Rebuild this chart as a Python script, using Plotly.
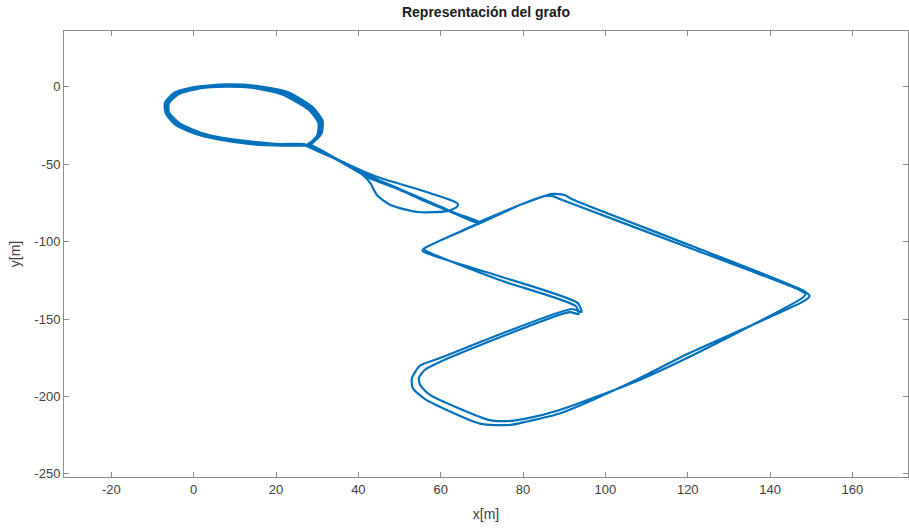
import plotly.graph_objects as go

# --- trajectory segments (metres), in driving order ---
# loops around the small ellipse
ell1_x = [27.5, 30.5, 30.8, 28.5, 22.0, 15.0, 8.0, 1.0, -4.0, -6.3, -6.3, -4.0, 1.0, 6.5, 14.0, 21.0, 27.5]
ell1_y = [-37.5, -31.0, -23.0, -14.5, -4.0, 0.0, 0.8, -0.5, -4.0, -10.0, -16.5, -24.0, -30.0, -33.5, -36.0, -37.5, -37.5]
ell2_x = [27.5, 31.0, 31.3, 29.0, 23.0, 15.5, 8.0, 0.5, -4.8, -7.0, -6.8, -4.5, 0.5, 6.0, 14.0, 21.5, 28.0]
ell2_y = [-37.5, -30.5, -22.0, -13.5, -3.5, 0.5, 1.5, 0.0, -4.0, -10.5, -17.0, -24.5, -30.5, -34.0, -37.0, -38.0, -38.0]

# corridor: down by the lower branch, u-turn, back up by the upper branch
cor1_x = [28.0, 35.0, 41.2, 42.9, 44.5, 47.8, 54.4, 61.6, 63.9, 64.2, 63.0, 55.8, 46.1, 42.0, 35.0, 28.0]
cor1_y = [-38.0, -47.5, -57.2, -62.2, -69.9, -76.4, -80.9, -80.3, -77.6, -75.8, -73.8, -67.3, -59.6, -55.5, -47.0, -37.0]

ell3_x = [28.0, 30.0, 30.3, 28.0, 21.5, 14.5, 8.0, 1.5, -3.5, -6.0, -6.0, -3.5, 1.5, 7.0, 14.5, 21.0, 27.0]
ell3_y = [-37.0, -31.5, -23.5, -15.0, -5.0, -0.8, 0.0, -1.0, -4.5, -10.5, -16.5, -23.5, -29.5, -33.0, -35.5, -37.0, -37.0]

# corridor down the main line to the large loop
cor2_x = [27.0, 35.0, 42.2, 50.0, 56.5, 63.5, 68.8]
cor2_y = [-37.5, -47.5, -58.4, -66.5, -74.3, -82.0, -88.0]

# two laps of the large loop
lapA_x = [68.8, 79.2, 85.3, 87.2, 88.9, 119.7, 147.1, 148.6, 147.8, 122.8, 108.3, 88.9, 80.4, 76.3, 71.9,
          57.4, 55.0, 54.7, 56.1, 59.8, 91.3, 93.5, 92.8, 74.3, 56.3, 56.0, 68.8]
lapA_y = [-88.0, -76.4, -70.6, -70.6, -72.5, -103.3, -131.2, -133.8, -136.4, -171.3, -189.3, -208.7, -214.5, -215.9, -215.3,
          -199.0, -192.6, -188.1, -182.9, -177.7, -145.5, -146.8, -141.6, -124.8, -105.8, -104.6, -89.0]
lapB_x = [80.4, 87.2, 90.1, 91.8, 120.4, 148.0, 149.6, 148.3, 120.4, 105.9, 88.9, 80.4, 77.0, 69.5,
          56.1, 53.2, 53.0, 54.9, 59.8, 91.8, 94.2, 93.3, 74.5, 55.6, 55.9, 69.3]
lapB_y = [-75.1, -69.2, -69.9, -72.5, -102.2, -131.6, -135.1, -138.3, -172.0, -191.3, -211.0, -216.5, -218.4, -217.5,
          -201.5, -194.5, -188.1, -180.3, -175.2, -143.5, -145.5, -139.7, -122.5, -106.1, -104.5, -88.0]

# corridor back up and a final partial loop
cor3_x = [69.5, 63.5, 56.5, 50.0, 42.5, 35.0, 28.0]
cor3_y = [-87.5, -81.5, -73.5, -66.0, -57.5, -47.0, -37.0]
ell4_x = [28.0, 30.8, 31.0, 29.0, 22.5, 15.0, 8.5, 1.0, -4.5, -6.8, -6.6]
ell4_y = [-38.0, -31.0, -22.5, -14.0, -3.5, 0.3, 1.0, -0.3, -4.0, -10.0, -16.0]

# axis ticks
x_ticks = [-20, 0, 20, 40, 60, 80, 100, 120, 140, 160]
y_ticks = [-250, -200, -150, -100, -50, 0]

xs = ell1_x + ell2_x + cor1_x + ell3_x + cor2_x + lapA_x + lapB_x + cor3_x + ell4_x
ys = ell1_y + ell2_y + cor1_y + ell3_y + cor2_y + lapA_y + lapB_y + cor3_y + ell4_y

fig = go.Figure(go.Scatter(x=xs, y=ys, mode="lines",
                           line=dict(color="#0072BD", width=2.2, shape="spline", smoothing=0.6),
                           showlegend=False))

font_family = "Liberation Sans, Arial, sans-serif"
axis_common = dict(
    showgrid=False, zeroline=False, showline=True, linecolor="#8c8c8c", linewidth=1,
    mirror="ticks", ticks="inside", ticklen=5, tickcolor="#8c8c8c",
    tickfont=dict(family=font_family, size=13, color="#404040"),
)

fig.update_layout(
    width=909, height=529,
    margin=dict(l=64, r=1, t=31, b=52),
    paper_bgcolor="white", plot_bgcolor="white",
    title=dict(text="<b>Representación del grafo</b>", x=0.5, xref="paper",
               y=1 - 12 / 529, yref="container", yanchor="middle",
               font=dict(family=font_family, size=14, color="#1a1a1a")),
    xaxis=dict(range=[-31.5, 173.5], tickvals=x_ticks, ticktext=[str(v) for v in x_ticks],
               title=dict(text="x[m]", standoff=13,
                          font=dict(family=font_family, size=14, color="#404040")),
               **axis_common),
    yaxis=dict(range=[-252, 36], tickvals=y_ticks, ticktext=[str(v) for v in y_ticks],
               title=dict(text="y[m]", standoff=10,
                          font=dict(family=font_family, size=14, color="#404040")),
               **axis_common),
)

fig.write_html("out.html")
